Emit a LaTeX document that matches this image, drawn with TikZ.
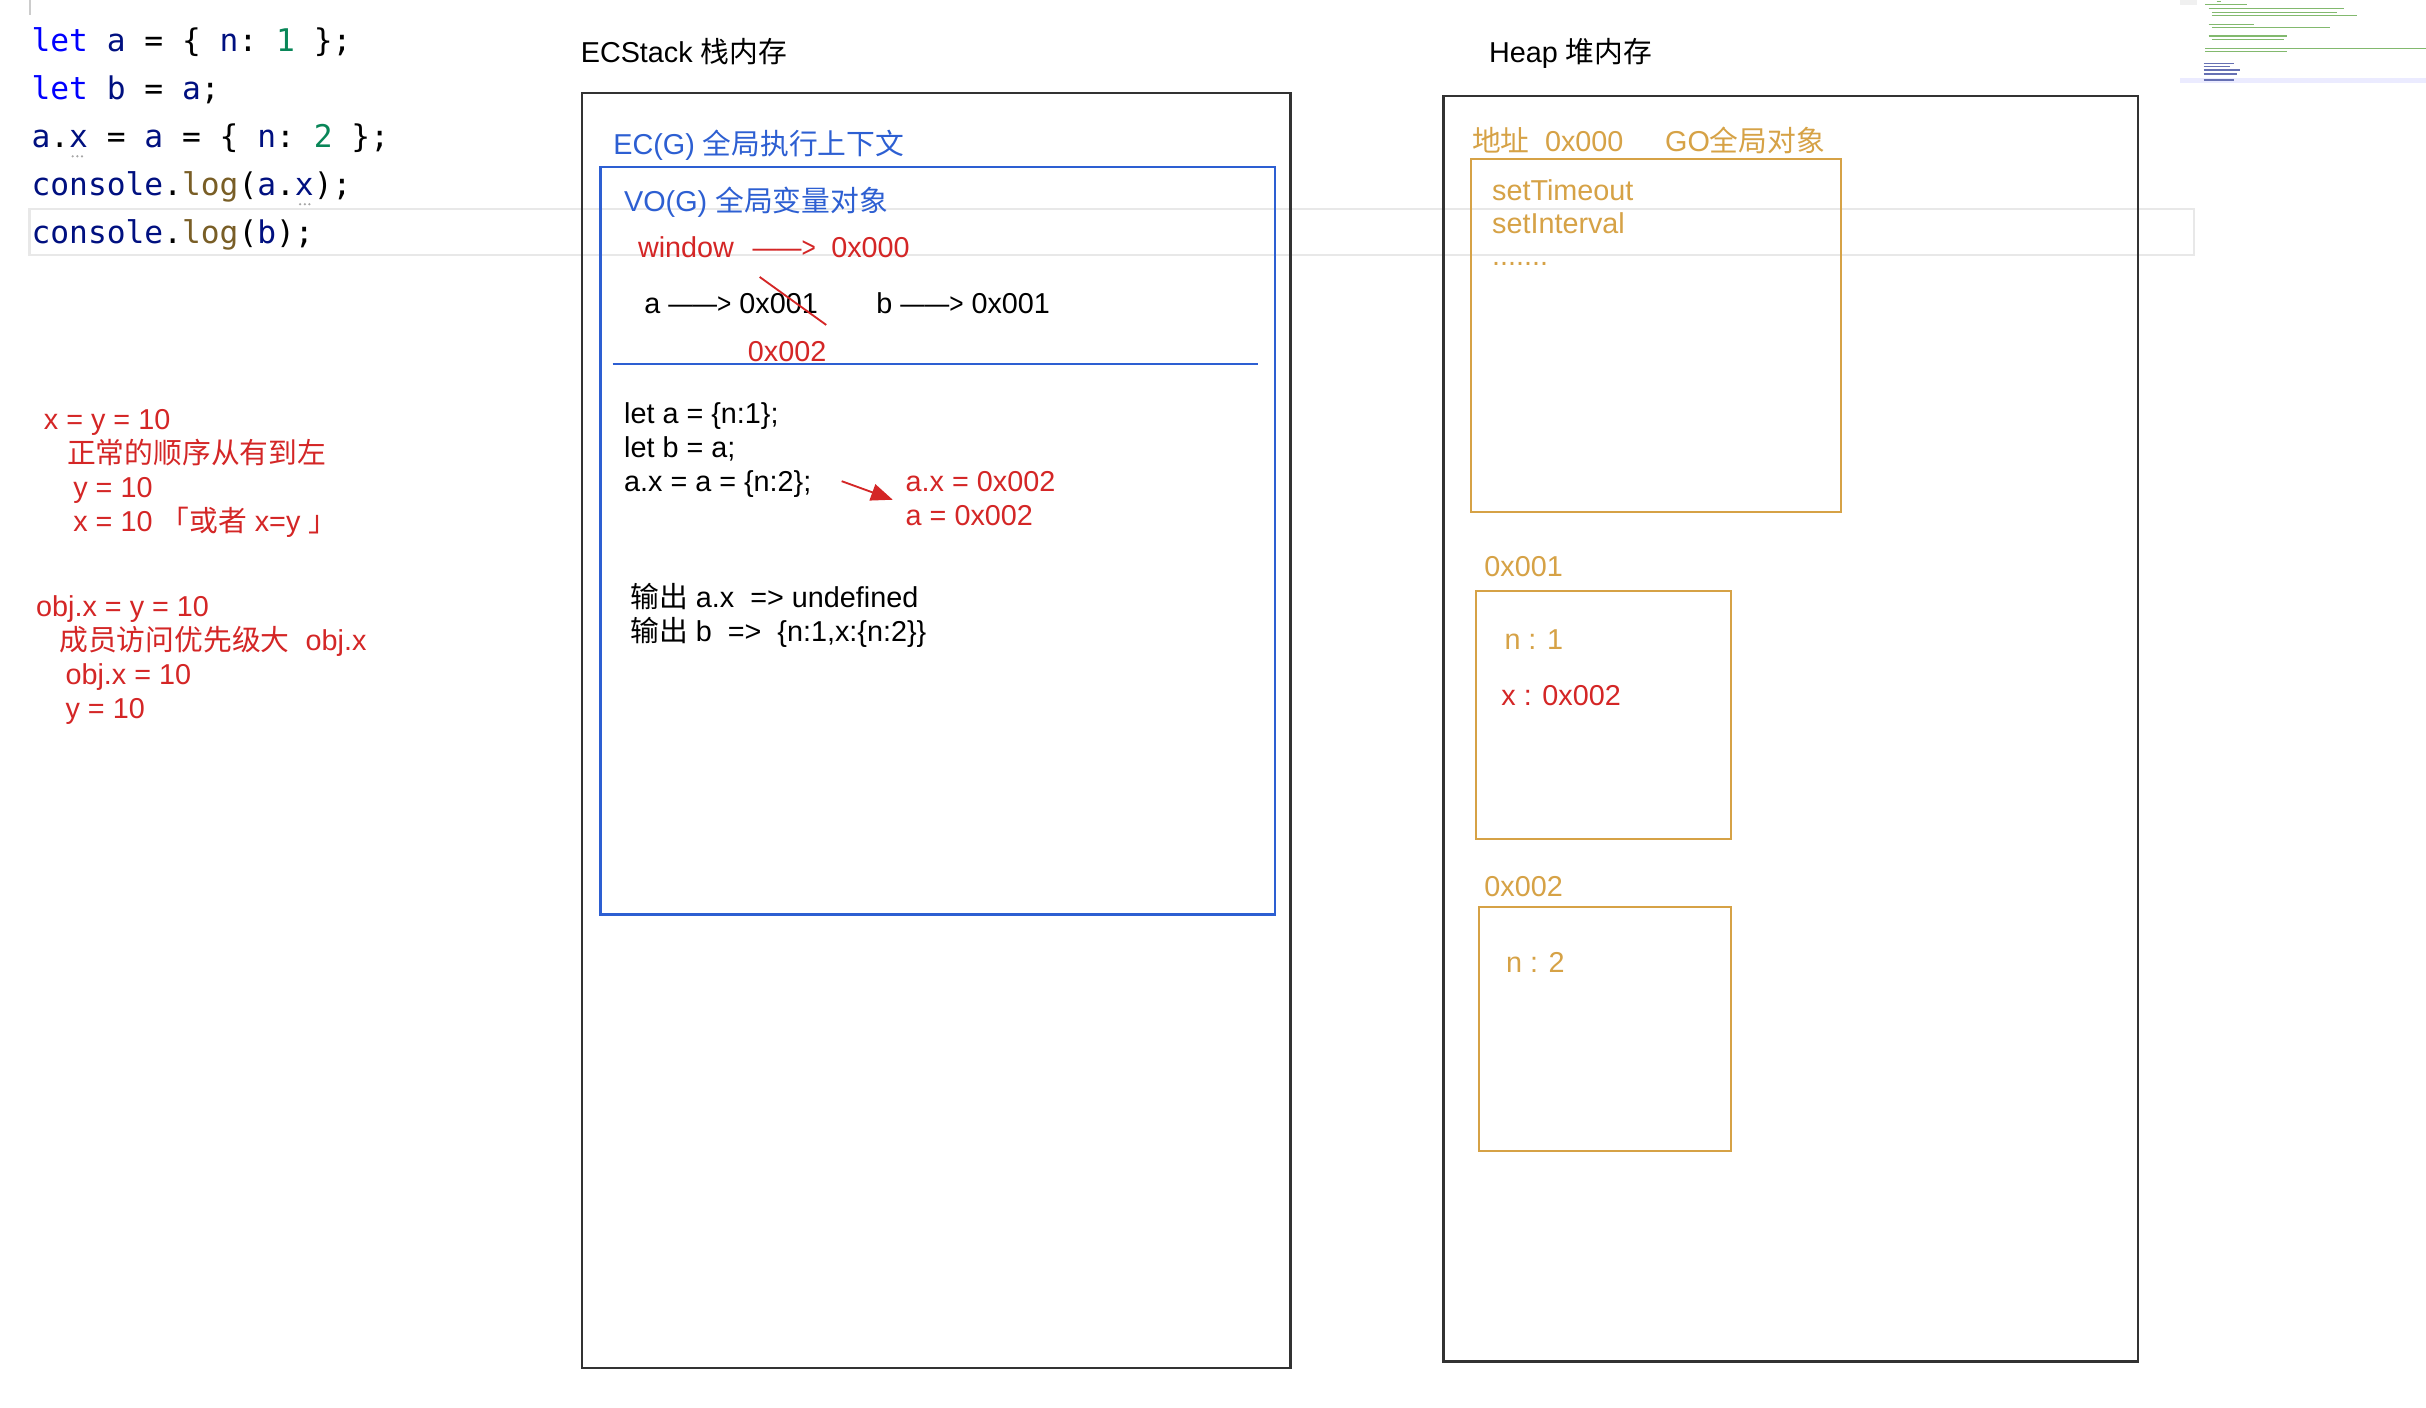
\documentclass[tikz,border=0pt]{standalone}
\usepackage{fontspec}
\setmainfont{Liberation Sans}
\setmonofont{DejaVu Sans Mono}
\newfontfamily\cjk{Noto Sans CJK SC}
\usepackage{graphicx}
\usetikzlibrary{arrows.meta, positioning}
\definecolor{StackBlue}{RGB}{45, 95, 210}
\definecolor{HeapOrange}{RGB}{214, 162, 70}
\definecolor{NoteRed}{RGB}{212, 38, 38}
\definecolor{BoxGrey}{RGB}{50, 50, 50}
\definecolor{CodeKw}{RGB}{0, 0, 255}
\definecolor{CodeId}{RGB}{0, 16, 128}
\definecolor{CodeNum}{RGB}{9, 134, 88}
\definecolor{CodeFn}{RGB}{121, 94, 38}
\definecolor{LineGrey}{RGB}{232, 232, 232}
\definecolor{MapGreen}{RGB}{130, 185, 110}
\tikzset{
  membox/.style={
    rectangle, draw=#1, line width=0.8pt, anchor=north west,
    inner sep=0pt, outer sep=0pt
  },
  txt/.style={
    anchor=west, inner sep=0pt, text height=6.7pt, text depth=0pt,
    font=\fontsize{9.3}{11}\selectfont
  },
  codeline/.style={
    anchor=west, inner sep=0pt, text height=7.4pt, text depth=0pt,
    font=\fontsize{10.1}{12}\selectfont\ttfamily
  },
  redline/.style={NoteRed, line width=0.6pt},
}
\newcommand{\zh}[1]{{\cjk #1}}
\newcommand{\kw}[1]{\textcolor{CodeKw}{#1}}
\newcommand{\jsid}[1]{\textcolor{CodeId}{#1}}
\newcommand{\jsnum}[1]{\textcolor{CodeNum}{#1}}
\newcommand{\jsfn}[1]{\textcolor{CodeFn}{#1}}
\newcommand{\harr}{\scalebox{0.85}[1]{——>}}

\begin{document}
\begin{tikzpicture}[x=0.5pt, y=-0.5pt]
\useasboundingbox (0,0) rectangle (1568,910);
\fill[white] (0,0) rectangle (1568,910);

% editor
\draw[gray!40, line width=0.6pt] (19.6,0) -- (19.6,10);
\draw[LineGrey, line width=0.75pt] (19,135) rectangle (1418,165);
\node[codeline] (c1) at (20,26) {\kw{let} \jsid{a} = \{ \jsid{n}: \jsnum{1} \};};
\node[codeline] (c2) at ([yshift=-15.5pt]c1.west) {\kw{let} \jsid{b} = \jsid{a};};
\node[codeline] (c3) at ([yshift=-15.5pt]c2.west) {\jsid{a}.\jsid{x} = \jsid{a} = \{ \jsid{n}: \jsnum{2} \};};
\node[codeline] (c4) at ([yshift=-15.5pt]c3.west) {\jsid{console}.\jsfn{log}(\jsid{a}.\jsid{x});};
\node[codeline] (c5) at ([yshift=-15.5pt]c4.west) {\jsid{console}.\jsfn{log}(\jsid{b});};
\foreach \cx/\cy in {50/101, 197/132}
  \foreach \d in {-3,0,3}
    \fill[gray!70] (\cx+\d,\cy) circle (0.4pt);

% minimap
\fill[gray!12] (1409,0) rectangle (1420,3.2);
\fill[blue!8] (1409,50.5) rectangle (1568,53.5);
\foreach \xa/\xb/\yy in {1432.6/1435.8/0.8, 1425.3/1452.3/2.8, 1427.5/1514.7/5.4,
    1429.6/1510.4/8.0, 1429.6/1523.4/10.1, 1427.5/1456.6/15.7, 1429.6/1506.2/17.9,
    1427.5/1478.1/23.3, 1429.6/1475.9/25.4, 1425.3/1568/31.2, 1425.3/1478.1/33.4}
  \draw[MapGreen, line width=0.45pt] (\xa,\yy) -- (\xb,\yy);
\foreach \xb/\yy in {1443.6/40.9, 1441.5/43.1, 1447.9/45.2, 1445.8/47.8, 1443.6/51.7}
  \draw[CodeId!60, line width=0.45pt] (1424.2,\yy) -- (\xb,\yy);

% notes
\begin{scope}[every node/.append style={txt, NoteRed}]
\node (n1) at (28,271) {x = y = 10};
\node (n2) at (43,293) {\zh{正常的顺序从有到左}};
\node (n3) at (47,315) {y = 10};
\node (n4) at (47,337) {x = 10 \zh{「或者} x=y \zh{」}};
\node (n5) at (23,392) {obj.x = y = 10};
\node (n6) at (38,414) {\zh{成员访问优先级大}\ \ obj.x};
\node (n7) at (42,436) {obj.x = 10};
\node (n8) at (42,458) {y = 10};
\end{scope}

% stack
\node[txt] (slbl) at (375,34) {ECStack \zh{栈内存}};
\node[membox=BoxGrey, minimum width=229pt, minimum height=412pt] (stack) at (376,60) {};
\node[txt, StackBlue] (ecg) at (396,93) {EC(G) \zh{全局执行上下文}};
\node[membox=StackBlue, minimum width=218pt, minimum height=241.5pt] (vo) at (388,108) {};
\node[txt, StackBlue] (vog) at (403,130) {VO(G) \zh{全局变量对象}};
\node[txt, NoteRed] (win) at (412,160) {window\hspace{6pt}\harr\hspace{5pt}0x000};
\node[txt] (aref) at (416,196) {a \harr\ 0x001};
\node[txt] (bref) at (566,196) {b \harr\ 0x001};
\node[txt, NoteRed] (anew) at (483,227) {0x002};
\draw[StackBlue, line width=0.7pt] (396,235) -- (813,235);
\node[txt] (s1) at (403,267) {let a = \{n:1\};};
\node[txt] (s2) at ([yshift=-11pt]s1.west) {let b = a;};
\node[txt] (s3) at ([yshift=-11pt]s2.west) {a.x = a = \{n:2\};};
\node[txt, NoteRed] (r1) at (585,311) {a.x = 0x002};
\node[txt, NoteRed] (r2) at ([yshift=-11pt]r1.west) {a = 0x002};
\node[txt] (out1) at (407,386) {\zh{输出} a.x\ \ => undefined};
\node[txt] (out2) at ([yshift=-11pt]out1.west) {\zh{输出} b\ \ =>\ \ \{n:1,x:\{n:2\}\}};
\coordinate (cutA) at (491,179);
\coordinate (cutB) at (534,210);
\draw[redline] (cutA) -- (cutB);
\coordinate (arrS) at (544,311);
\coordinate (arrE) at (577,323);
\draw[redline, -{Triangle[length=7pt, width=5.5pt]}] (arrS) -- (arrE);

% heap
\node[txt] (hlbl) at (962,34) {Heap \zh{堆内存}};
\node[membox=BoxGrey, minimum width=224.5pt, minimum height=409pt] (heap) at (933,62) {};
\node[txt, HeapOrange] (golbl) at (951,91) {\zh{地址}\hspace{5pt}0x000\hspace{13.5pt}GO\zh{全局对象}};
\node[membox=HeapOrange, line width=0.65pt, minimum width=119.5pt, minimum height=114pt] (go) at (951,103) {};
\node[txt, HeapOrange] (go1) at (964,123) {setTimeout};
\node[txt, HeapOrange] (go2) at ([yshift=-10.5pt]go1.west) {setInterval};
\node[txt, HeapOrange] (go3) at ([yshift=-10.5pt]go2.west) {.......};
\node[txt, HeapOrange] (o1lbl) at (959,366) {0x001};
\node[membox=HeapOrange, line width=0.65pt, minimum width=82.5pt, minimum height=80pt] (obj1) at (954,382) {};
\node[txt, HeapOrange] (o1n) at (972,413) {n : 1};
\node[txt, NoteRed] (o1x) at (970,449) {x : 0x002};
\node[txt, HeapOrange] (o2lbl) at (959,573) {0x002};
\node[membox=HeapOrange, line width=0.65pt, minimum width=81.5pt, minimum height=79pt] (obj2) at (956,586) {};
\node[txt, HeapOrange] (o2n) at (973,622) {n : 2};
\end{tikzpicture}
\end{document}
